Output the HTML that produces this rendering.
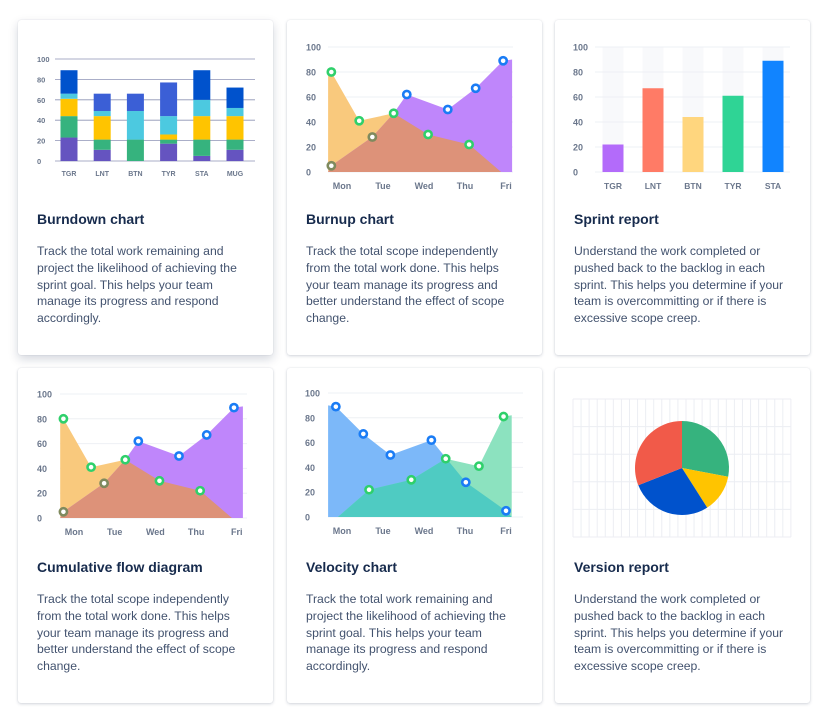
<!DOCTYPE html>
<html><head><meta charset="utf-8">
<style>
html,body{margin:0;padding:0;background:#fff;width:829px;height:715px;overflow:hidden;font-family:"Liberation Sans",sans-serif;}
.card{position:absolute;width:255px;height:335px;background:#fff;border-radius:3px;box-shadow:0 1px 3px rgba(9,30,66,0.18),0 0 1px rgba(9,30,66,0.12);}
.card.hi{box-shadow:0 4px 10px rgba(9,30,66,0.18),0 0 1px rgba(9,30,66,0.2);}
.t{position:absolute;left:19px;top:191px;font-size:14px;font-weight:bold;color:#172b4d;}
.d{position:absolute;left:19px;top:223px;font-size:12.2px;line-height:16.8px;color:#42526e;width:230px;}
svg{position:absolute;left:0;top:0;}
text{font-family:"Liberation Sans",sans-serif;fill:#6b778c;font-weight:bold;}
</style></head><body>
<div class="card hi" style="left:18px;top:20px"><div class="t">Burndown chart</div><div class="d">Track the total work remaining and<br>project the likelihood of achieving the<br>sprint goal. This helps your team<br>manage its progress and respond<br>accordingly.</div></div>
<div class="card" style="left:287px;top:20px"><div class="t">Burnup chart</div><div class="d">Track the total scope independently<br>from the total work done. This helps<br>your team manage its progress and<br>better understand the effect of scope<br>change.</div></div>
<div class="card" style="left:555px;top:20px"><div class="t">Sprint report</div><div class="d">Understand the work completed or<br>pushed back to the backlog in each<br>sprint. This helps you determine if your<br>team is overcommitting or if there is<br>excessive scope creep.</div></div>
<div class="card" style="left:18px;top:368px"><div class="t">Cumulative flow diagram</div><div class="d">Track the total scope independently<br>from the total work done. This helps<br>your team manage its progress and<br>better understand the effect of scope<br>change.</div></div>
<div class="card" style="left:287px;top:368px"><div class="t">Velocity chart</div><div class="d">Track the total work remaining and<br>project the likelihood of achieving the<br>sprint goal. This helps your team<br>manage its progress and respond<br>accordingly.</div></div>
<div class="card" style="left:555px;top:368px"><div class="t">Version report</div><div class="d">Understand the work completed or<br>pushed back to the backlog in each<br>sprint. This helps you determine if your<br>team is overcommitting or if there is<br>excessive scope creep.</div></div>
<svg id="s" width="829" height="715"></svg>
<script>
// Burndown data
const bdCats=["TGR","LNT","BTN","TYR","STA","MUG"];
const bdPurple=[23,11,0,17,5,11];
const bdGreen=[21,10,21,4,16,10];
const bdYellow=[17,23,0,5,23,23];
const bdCyan=[5,5,28,18,16,8];
const bdDarkBlue=[23,0,0,0,29,20];
const bdBlue=[0,17,17,33,0,0];
const yTicks=[0,20,40,60,80,100];
// Burnup / cumulative data (x in day index, Mon=0)
const dayLabels=["Mon","Tue","Wed","Thu","Fri"];
const scopeX=[-0.34,-0.26,0.42,1.26,2.1,3.1,3.88];
const scopeY=[82,80,41,47,30,22,0];
const doneX=[-0.34,-0.26,0.74,1.26,1.58,2.58,3.26,3.93,4.15];
const doneY=[0,5,28,47,62,50,67,89,90];
const scopeDotX=[-0.26,0.42,1.26,2.1,3.1];
const scopeDotY=[80,41,47,30,22];
const doneDotX=[1.58,2.58,3.26,3.93];
const doneDotY=[62,50,67,89];
const grayDotX=[-0.26,0.74];
const grayDotY=[5,28];
// Velocity data
const velBlueX=[-0.34,-0.15,0.52,1.18,2.18,3.02,4.0,4.14];
const velBlueY=[90,89,67,50,62,28,5,0];
const velBlueDotX=[-0.15,0.52,1.18,2.18,3.02,4.0];
const velBlueDotY=[89,67,50,62,28,5];
const velGreenX=[-0.1,0.66,1.69,2.53,3.34,3.94,4.14];
const velGreenY=[0,22,30,47,41,81,82];
const velGreenDotX=[0.66,1.69,2.53,3.34,3.94];
const velGreenDotY=[22,30,47,41,81];
// Sprint report
const spCats=["TGR","LNT","BTN","TYR","STA"];
const spVals=[22,67,44,61,89];
// Version report
const pieVals=[28,13,28,31];

const S=document.getElementById('s');
const NS='http://www.w3.org/2000/svg';
function mk(tag,attrs,parent){const e=document.createElementNS(NS,tag);for(const k in attrs)e.setAttribute(k,attrs[k]);(parent||S).appendChild(e);return e;}
function txt(x,y,s,size,anchor){const t=mk('text',{x:x,y:y,'font-size':size,'text-anchor':anchor||'middle'});t.textContent=s;return t;}

// ---- Burndown ----
(function(){
 const y=v=>161-v*1.02, x0=69, step=33.2;
 yTicks.forEach(v=>{const l=mk('line',{x1:55,x2:255,y1:y(v),y2:y(v),stroke:'#8d93b5','stroke-width':0.8});
  
  
  const t=txt(37,y(v)+3,String(v),7.5,'start');
  
  });
 const series=[bdPurple,bdGreen,bdYellow,bdCyan,bdDarkBlue,bdBlue];
 const cols=['#6554c0','#36b37e','#ffc400','#4cc9e0','#0052cc','#3b5fd6'];
 bdCats.forEach((c,i)=>{let acc=0;const cx=x0+i*step;
  series.forEach((s,j)=>{const v=s[i];if(v>0){const r=mk('rect',{x:cx-8.5,y:y(acc+v),width:17,height:v*1.02,fill:cols[j]});
   
   }acc+=v;});
  const t=txt(cx,176,c,7);
  
  });
})();

// ---- area charts ----
function areaChart(o,pre){
 const y=v=>o.y0-v*(o.y0-o.y100)/100, x=t=>o.mon+t*o.step;
 yTicks.forEach(v=>{const l=mk('line',{x1:o.left,x2:o.right,y1:y(v),y2:y(v),stroke:'#eef0f4','stroke-width':1});
  
  
  const t=txt(o.lx,y(v)+3.5,String(v),9,'start');
  
  });
 dayLabels.forEach((d,i)=>{const t=txt(x(i),o.y0+17,d,9);
  
  });
 const poly=(xs,ys)=>{let p=x(xs[0]).toFixed(1)+','+y(0).toFixed(1)+' ';xs.forEach((t,i)=>p+=x(t).toFixed(1)+','+y(ys[i]).toFixed(1)+' ');p+=x(xs[xs.length-1]).toFixed(1)+','+y(0).toFixed(1);return p;};
 const A=poly(o.aX,o.aY),B=poly(o.bX,o.bY);
 const a=mk('polygon',{points:A,fill:o.aCol});
 
 
 const b=mk('polygon',{points:B,fill:o.bCol});
 
 
 const cp=mk('clipPath',{id:pre+'clip'});mk('polygon',{points:B},cp);
 const ov=mk('polygon',{points:A,fill:o.ovCol,'clip-path':'url(#'+pre+'clip)'});
 
 
 o.dots.forEach(d=>{d.x.forEach((t,i)=>{const c=mk('circle',{cx:x(t),cy:y(d.y[i]),r:3.6,fill:'#fff',stroke:d.c,'stroke-width':2.6});
  
  });});
}
const burnDots=[{x:grayDotX,y:grayDotY,c:'#7f8a5e'},{x:scopeDotX,y:scopeDotY,c:'#2fd06b'},{x:doneDotX,y:doneDotY,c:'#1a7cf5'}];
areaChart({y0:172,y100:47,mon:342,step:41,left:328,right:513,lx:306,aX:scopeX,aY:scopeY,bX:doneX,bY:doneY,aCol:'#f9c97d',bCol:'#bf86fb',ovCol:'#dd9279',dots:burnDots},'burnup');
areaChart({y0:518,y100:394,mon:74,step:40.7,left:60,right:247,lx:37,aX:scopeX,aY:scopeY,bX:doneX,bY:doneY,aCol:'#f9c97d',bCol:'#bf86fb',ovCol:'#dd9279',dots:burnDots},'cumulative');
areaChart({y0:517,y100:393,mon:342,step:41,left:328,right:523,lx:305,aX:velBlueX,aY:velBlueY,bX:velGreenX,bY:velGreenY,aCol:'#7cb8f9',bCol:'#8ce2bf',ovCol:'#4fcbc2',
 dots:[{x:velGreenDotX,y:velGreenDotY,c:'#2fd06b'},{x:velBlueDotX,y:velBlueDotY,c:'#1a7cf5'}]},'velocity');

// ---- Sprint report ----
(function(){
 const y=v=>172-v*1.25, x0=613, step=40;
 const cols=['#b36bfa','#ff7b66','#ffd67e','#2fd495','#1184ff'];
 spCats.forEach((c,i)=>{const r=mk('rect',{x:x0+i*step-10.5,y:y(100),width:21,height:125,fill:'#f8f9fb'});
  
  });
 yTicks.forEach(v=>{const l=mk('line',{x1:595,x2:790,y1:y(v),y2:y(v),stroke:'#eef0f4','stroke-width':1});
  
  
  const t=txt(573,y(v)+3.5,String(v),9,'start');
  
  });
 spCats.forEach((c,i)=>{const r=mk('rect',{x:x0+i*step-10.5,y:y(spVals[i]),width:21,height:spVals[i]*1.25,fill:cols[i]});
  
  
  const t=txt(x0+i*step,189,c,8.5);
  
  });
})();

// ---- Version report ----
(function(){
 for(let gx=573;gx<=791;gx+=8.07){const l=mk('line',{x1:gx,x2:gx,y1:399,y2:537,stroke:'#eceef3','stroke-width':1});
  
  }
 for(let gy=399;gy<=538;gy+=27.6){const l=mk('line',{x1:573,x2:791,y1:gy,y2:gy,stroke:'#eceef3','stroke-width':1});
  
  }
 const cx=682,cy=468,R=47,cols=['#36b37e','#ffc400','#0052cc','#f15a49'];
 const tot=pieVals.reduce((a,b)=>a+b,0);let a0=0;
 pieVals.forEach((v,i)=>{const a1=a0+v/tot*Math.PI*2;
  const p=(a)=>(cx+R*Math.sin(a)).toFixed(2)+','+(cy-R*Math.cos(a)).toFixed(2);
  const s=mk('path',{d:'M'+cx+','+cy+' L'+p(a0)+' A'+R+','+R+' 0 '+((a1-a0)>Math.PI?1:0)+' 1 '+p(a1)+' Z',fill:cols[i]});
  
  
  a0=a1;});
})();
</script>
</body></html>
